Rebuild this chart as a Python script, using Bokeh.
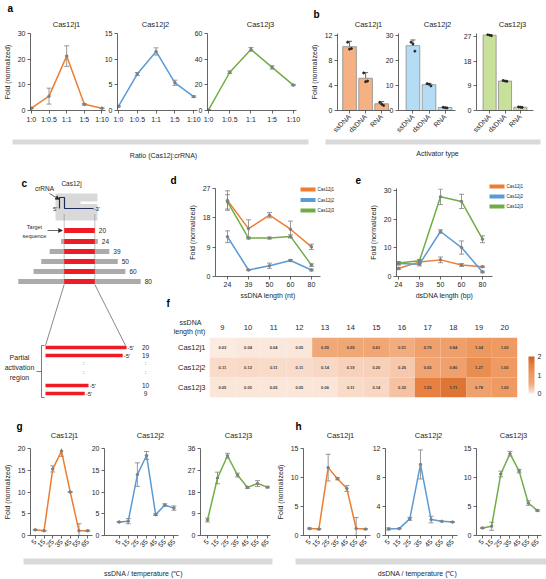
import math
from bokeh.plotting import figure
from bokeh.layouts import row, column
from bokeh.models import (Range1d, FixedTicker, Whisker, ColumnDataSource,
                          LinearColorMapper, ColorBar, TeeHead, Arrow, NormalHead)
from bokeh.transform import transform
from bokeh.embed import file_html
from bokeh.resources import INLINE
from bokeh.core.properties import value

# ---------------- data ----------------
series_names = ["Cas12j1", "Cas12j2", "Cas12j3"]

ratio_labels = ["1:0", "1:0.5", "1:1", "1:5", "1:10"]
a_j1 = [0.9, 5.6, 21.2, 2.4, 0.9]
a_j1_err = [0.15, 3.1, 4.0, 0.3, 0.15]
a_j2 = [0.8, 7.1, 11.5, 5.4, 2.7]
a_j2_err = [0.1, 0.3, 0.7, 0.5, 0.15]
a_j3 = [0.4, 29.8, 47.6, 33.6, 19.8]
a_j3_err = [0.3, 1.0, 1.5, 1.3, 0.5]

activator_labels = ["ssDNA", "dsDNA", "RNA"]
b_j1 = [10.2, 5.15, 1.08]
b_j1_err = [0.85, 0.9, 0.35]
b_j1_reps = [[10.9, 9.8, 9.9], [6.0, 4.6, 4.7], [1.3, 1.0, 0.8]]
b_j2 = [26.1, 10.4, 1.2]
b_j2_err = [2.3, 0.5, 0.15]
b_j2_reps = [[27.5, 26.8, 23.9], [10.8, 10.6, 9.9], [1.3, 1.1, 1.0]]
b_j3 = [27.4, 10.7, 1.2]
b_j3_err = [0.25, 0.25, 0.1]
b_j3_reps = [[27.6, 27.4, 27.2], [10.9, 10.7, 10.6], [1.3, 1.2, 1.1]]

ss_length_labels = ["24", "39", "50", "60", "80"]
d_j1 = [23.3, 14.7, 18.8, 14.5, 9.1]
d_j1_err = [3.0, 2.7, 0.8, 2.5, 0.8]
d_j2 = [12.2, 2.0, 3.3, 4.9, 2.0]
d_j2_err = [1.8, 0.2, 0.8, 0.3, 0.3]
d_j3 = [22.9, 11.8, 11.8, 12.3, 3.5]
d_j3_err = [2.2, 0.3, 0.3, 0.5, 0.4]

ds_length_labels = ["24", "39", "50", "60", "80"]
e_j1 = [2.8, 5.1, 5.8, 4.0, 3.4]
e_j1_err = [0.4, 0.6, 1.0, 0.5, 0.2]
e_j2 = [4.5, 4.3, 15.7, 10.1, 1.6]
e_j2_err = [0.5, 0.6, 0.6, 2.3, 0.3]
e_j3 = [4.7, 5.5, 27.8, 26.2, 13.0]
e_j3_err = [0.5, 0.5, 2.7, 2.5, 1.2]

hm_lengths = [9, 10, 11, 12, 13, 14, 15, 16, 17, 18, 19, 20]
hm_j1 = [0.03, 0.04, 0.04, 0.05, 0.55, 0.59, 0.61, 0.51, 0.79, 0.84, 1.04, 1.00]
hm_j2 = [0.11, 0.12, 0.11, 0.11, 0.14, 0.19, 0.20, 0.26, 0.65, 0.80, 1.27, 1.00]
hm_j3 = [0.05, 0.05, 0.05, 0.05, 0.06, 0.11, 0.14, 0.32, 1.53, 1.71, 0.78, 1.00]

temp_labels = ["5", "15", "25", "35", "45", "55", "65"]
g_j1 = [1.3, 1.1, 15.3, 19.4, 10.0, 1.1, 1.1]
g_j1_err = [0.1, 0.1, 0.7, 1.2, 0.1, 1.6, 0.1]
g_j2 = [3.1, 3.3, 14.0, 18.4, 4.8, 7.0, 6.3]
g_j2_err = [0.1, 0.6, 2.7, 0.9, 0.2, 0.3, 0.5]
g_j3 = [6.4, 23.8, 33.0, 25.0, 19.9, 21.5, 20.0]
g_j3_err = [0.8, 2.4, 1.0, 0.8, 0.4, 1.2, 0.3]

h_j1 = [1.2, 1.1, 11.7, 9.8, 8.1, 1.2, 1.1]
h_j1_err = [0.1, 0.1, 2.3, 0.2, 0.5, 1.9, 0.1]
h_j2 = [0.9, 0.95, 2.3, 9.8, 2.2, 1.95, 1.85]
h_j2_err = [0.15, 0.05, 0.2, 2.0, 0.45, 0.05, 0.05]
h_j3 = [1.3, 1.6, 10.6, 14.1, 11.1, 5.6, 4.3]
h_j3_err = [0.1, 0.7, 0.5, 0.4, 0.3, 0.4, 0.1]

target_length = 20
activator_lengths = [24, 39, 50, 60, 80]
partial_lengths = [20, 19, 10, 9]

# ---------------- style ----------------
FONT = "Liberation Sans"
K = 1.0
W_ALL, H_ALL = 546, 579
ORANGE, BLUE, GREEN = "#ED7D31", "#5B9BD5", "#70AD47"
SERIES_COLORS = [ORANGE, BLUE, GREEN]
ERR = "#7F7F7F"
AXC = "#404040"
TXT = "#262626"


def S(v):
    return int(round(v * K))


class Box:
    def __init__(self, box, frame, xr, yr, **kw):
        x0, y0, x1, y1 = box
        fx0, fy0, fx1, fy1 = frame
        self.box, self.frame, self.xr, self.yr = box, frame, xr, yr
        self.p = figure(width=S(x1) - S(x0), height=S(y1) - S(y0),
                        x_range=Range1d(*xr), y_range=Range1d(*yr),
                        min_border_left=S(fx0) - S(x0), min_border_right=S(x1) - S(fx1),
                        min_border_top=S(fy0) - S(y0), min_border_bottom=S(y1) - S(fy1),
                        output_backend="svg", toolbar_location=None, title=None, **kw)
        p = self.p
        p.background_fill_color = None
        p.border_fill_color = None
        p.outline_line_color = None
        for g in p.grid:
            g.visible = False


def style_axes(p, fs="7px"):
    for ax in list(p.xaxis) + list(p.yaxis):
        ax.axis_line_color = AXC
        ax.axis_line_width = 0.8
        ax.major_tick_line_color = AXC
        ax.major_tick_line_width = 0.8
        ax.minor_tick_line_color = None
        ax.major_tick_out = 3
        ax.major_tick_in = 0
        ax.major_label_standoff = 2
        ax.major_label_text_font = FONT
        ax.major_label_text_font_size = fs
        ax.major_label_text_color = TXT
        ax.axis_label_text_font = FONT
        ax.axis_label_text_font_size = "7px"
        ax.axis_label_text_font_style = "normal"
        ax.axis_label_text_color = TXT
        ax.axis_label_standoff = 4


def add_series(p, vals, errs, color, lw=1.5):
    xs = list(range(len(vals)))
    src = ColumnDataSource(dict(x=xs, y=vals,
                                lo=[max(v - e, 0) for v, e in zip(vals, errs)],
                                hi=[v + e for v, e in zip(vals, errs)]))
    p.line('x', 'y', source=src, line_color=color, line_width=lw)
    p.add_layout(Whisker(source=src, base='x', lower='lo', upper='hi', line_color=ERR, line_width=0.8,
                         upper_head=TeeHead(size=5, line_color=ERR, line_width=0.8),
                         lower_head=TeeHead(size=5, line_color=ERR, line_width=0.8)))
    p.scatter('x', 'y', source=src, size=2.5, color=ERR)


def cat_axis(p, labels, rot=False):
    p.xaxis.ticker = FixedTicker(ticks=list(range(len(labels))))
    p.xaxis.major_label_overrides = {i: t for i, t in enumerate(labels)}
    if rot:
        p.xaxis.major_label_orientation = math.pi / 4


def line_panel(box, frame, xr, yr, yticks, labels, vals, errs, color, rot, ylabel):
    B = Box(box, frame, xr, yr)
    p = B.p
    add_series(p, vals, errs, color)
    cat_axis(p, labels, rot)
    p.yaxis.ticker = FixedTicker(ticks=yticks)
    if ylabel:
        p.yaxis.axis_label = "Fold (normalized)"
    style_axes(p)
    return B


def bar_panel(box, frame, xr, yr, yticks, vals, errs, reps, fill, ylabel):
    B = Box(box, frame, xr, yr)
    p = B.p
    xs = list(range(len(vals)))
    src = ColumnDataSource(dict(x=xs, y=vals, lo=[v - e for v, e in zip(vals, errs)],
                                hi=[v + e for v, e in zip(vals, errs)]))
    p.vbar(x='x', top='y', width=0.85, source=src, fill_color=fill, line_color="#8C8C8C", line_width=0.8)
    p.add_layout(Whisker(source=src, base='x', lower='lo', upper='hi', line_color="#404040", line_width=0.8,
                         upper_head=TeeHead(size=5, line_color="#404040", line_width=0.8),
                         lower_head=TeeHead(size=5, line_color="#404040", line_width=0.8)))
    offs = [-0.12, 0.0, 0.12]
    rx = [i + offs[j] for i in xs for j in range(len(reps[i]))]
    ry = [reps[i][j] for i in xs for j in range(len(reps[i]))]
    p.scatter(rx, ry, size=2, color="#262626")
    cat_axis(p, activator_labels, True)
    p.yaxis.ticker = FixedTicker(ticks=yticks)
    if ylabel:
        p.yaxis.axis_label = "Fold (normalized)"
    style_axes(p)
    return B


def hrow(boxes):
    kids = []
    prev = None
    for b in boxes:
        ml = 0 if prev is None else S(b.box[0]) - S(prev.box[2])
        b.p.margin = (0, 0, 0, ml)
        kids.append(b.p)
        prev = b
    return row(*kids)


def ctext(p, x, y, text, size="6.5px", align="center", style="normal", color=TXT):
    p.text(x=[x], y=[y], text=[text], text_font=value(FONT), text_font_size=value(size),
           text_align=align, text_baseline="middle", text_color=color, text_font_style=style)


# ---------------- panel a ----------------
a1 = line_panel((0, 0, 112, 139), (28, 32, 105, 119), (-0.05, 4.2), (0, 30), [0, 10, 20, 30],
                ratio_labels, a_j1, a_j1_err, ORANGE, False, True)
a2 = line_panel((100, 0, 202, 139), (117, 32, 197, 119), (-0.05, 4.2), (0, 15), [0, 5, 10, 15],
                ratio_labels, a_j2, a_j2_err, BLUE, False, False)
a3 = line_panel((190, 0, 305, 139), (207, 30, 296, 119), (-0.05, 4.15), (0, 60), [0, 20, 40, 60],
                ratio_labels, a_j3, a_j3_err, GREEN, False, False)

# ---------------- panel b ----------------
b1 = bar_panel((295, 0, 393, 139), (337, 33, 390, 117), (-0.75, 2.55), (0, 12.3), [0, 4, 8, 12],
               b_j1, b_j1_err, b_j1_reps, "#F5B183", True)
b2 = bar_panel((378, 0, 470, 139), (398, 33, 455, 117), (-0.9, 2.65), (0, 31), [0, 10, 20, 30],
               b_j2, b_j2_err, b_j2_reps, "#B4DDF5", False)
b3 = bar_panel((460, 0, 546, 139), (475, 33, 533, 117), (-0.85, 2.85), (0, 28), [0, 9, 18, 27],
               b_j3, b_j3_err, b_j3_reps, "#C9E09A", False)

# ---------------- strip under a/b ----------------
st1 = Box((0, 139, 546, 165), (0, 139, 546, 165), (0, 546), (165, 139), x_axis_type=None, y_axis_type=None)
st1.p.quad(left=[12, 325], right=[308, 540], top=[137, 137], bottom=[144, 144],
           fill_color="#D9D9D9", line_color=None)
ctext(st1.p, 163, 155, "Ratio (Cas12j:crRNA)", size="7px")
ctext(st1.p, 437, 153, "Activator type", size="7px")

# ---------------- panel c (schematic) ----------------
c = Box((0, 165, 168, 410), (0, 165, 168, 410), (0, 168), (410, 165), x_axis_type=None, y_axis_type=None)
p = c.p
CX, PXN = 79, 1.53
p.quad(left=[55], right=[97], top=[193], bottom=[220], fill_color="#D9D9D9", line_color=None)
p.quad(left=[80], right=[98], top=[201], bottom=[203.5], fill_color="white", line_color=None)
p.line([59, 59, 64, 64, 93], [208, 197, 197, 208, 208], line_color="#1F2D5C", line_width=1.2)
ctext(p, 57, 208, "5'", size="6px", align="right")
ctext(p, 93, 208, "-3'", size="6px", align="left")
ctext(p, 44, 188, "crRNA", size="6.5px")
ctext(p, 71, 183, "Cas12j", size="6.5px")
ctext(p, 21, 183, "c", size="10px", align="left", style="bold", color="black")
p.add_layout(Arrow(end=NormalHead(size=4, fill_color=TXT, line_color=TXT, line_width=0.5),
                   x_start=49, y_start=193, x_end=59, y_end=199, line_color=TXT, line_width=0.7))
ctext(p, 34, 226, "Target", size="5.5px")
ctext(p, 34, 235, "sequence", size="5.5px")
p.add_layout(Arrow(end=NormalHead(size=4, fill_color=TXT, line_color=TXT, line_width=0.5),
                   x_start=47, y_start=230, x_end=62, y_end=230, line_color=TXT, line_width=0.7))
row_y = [241 + 10 * i for i in range(len(activator_lengths))]
xl, xr_ = CX - PXN * target_length / 2, CX + PXN * target_length / 2
p.segment(x0=[xl, xr_], y0=[214, 214], x1=[xl, xr_], y1=[284, 284],
          line_color="#555555", line_width=0.7, line_dash="1 1")
p.rect(x=[CX] * len(activator_lengths), y=row_y, width=[PXN * L for L in activator_lengths],
       height=5, fill_color="#ABABAB", line_color=None)
p.rect(x=[CX] * (len(row_y) + 1), y=[230] + row_y, width=PXN * target_length, height=5,
       fill_color="#EE1C25", line_color=None)
for L, yy in zip([target_length] + activator_lengths, [230] + row_y):
    ctext(p, CX + PXN * L / 2 + 4, yy, str(L), size="6.5px", align="left")
p.segment(x0=[xl, xr_], y0=[284, 284], x1=[45, 125], y1=[345, 345], line_color="#555555", line_width=0.7)
part_y = [347, 355, 385, 393]
part_w = [3.8 * L + 5 for L in partial_lengths]
p.quad(left=[45] * 4, right=[45 + w for w in part_w], top=[yy - 1.8 for yy in part_y],
       bottom=[yy + 1.8 for yy in part_y], fill_color="#EE1C25", line_color=None)
for L, w, yy in zip(partial_lengths, part_w, part_y):
    ctext(p, 46 + w, yy, "-5'", size="6px", align="left")
    ctext(p, 145, yy, str(L), size="6.5px")
for yy in (362, 371):
    ctext(p, 145, yy, ":", size="6px")
    ctext(p, 83, yy, ":", size="6px")
p.line([44, 41, 41, 44], [345, 345, 397, 397], line_color="#444444", line_width=0.7)
p.segment(x0=[36], y0=[371], x1=[41], y1=[371], line_color="#444444", line_width=0.7)
ctext(p, 19, 357, "Partial", size="7px")
ctext(p, 19, 367, "activation", size="7px")
ctext(p, 19, 377, "region", size="7px")

# ---------------- panels d, e ----------------
d = Box((168, 165, 358, 302), (215, 188, 320, 276), (-0.571, 4.43), (0, 27))
for vals, errs, col in zip([d_j1, d_j2, d_j3], [d_j1_err, d_j2_err, d_j3_err], SERIES_COLORS):
    add_series(d.p, vals, errs, col)
cat_axis(d.p, ss_length_labels)
d.p.yaxis.ticker = FixedTicker(ticks=[0, 9, 18, 27])
d.p.yaxis.axis_label = "Fold (normalized)"
d.p.xaxis.axis_label = "ssDNA length (nt)"
style_axes(d.p)
d.p.xaxis.axis_label_standoff = 2

e = Box((350, 165, 546, 302), (396, 187, 492, 276), (-0.095, 4.476), (0, 30.7))
for vals, errs, col in zip([e_j1, e_j2, e_j3], [e_j1_err, e_j2_err, e_j3_err], SERIES_COLORS):
    add_series(e.p, vals, errs, col)
cat_axis(e.p, ds_length_labels)
e.p.yaxis.ticker = FixedTicker(ticks=[0, 10, 20, 30])
e.p.yaxis.axis_label = "Fold (normalized)"
e.p.xaxis.axis_label = "dsDNA length (bp)"
style_axes(e.p)
e.p.xaxis.axis_label_standoff = 2

# ---------------- panel f (heatmap) ----------------
anchors = [(0.0, "#FCEFE7"), (0.1, "#F9DCCB"), (0.3, "#F5C4A6"), (0.55, "#F0A878"),
           (1.0, "#EE9A62"), (1.6, "#E67D3C"), (2.0, "#CC5F1E")]


def make_palette(anc, n=256):
    out = []
    lo, hi = anc[0][0], anc[-1][0]
    for i in range(n):
        v = lo + (hi - lo) * i / (n - 1)
        for (v0, c0), (v1, c1) in zip(anc[:-1], anc[1:]):
            if v <= v1 + 1e-9:
                t = (v - v0) / (v1 - v0)
                r0 = [int(c0[k:k + 2], 16) for k in (1, 3, 5)]
                r1 = [int(c1[k:k + 2], 16) for k in (1, 3, 5)]
                out.append("#%02x%02x%02x" % tuple(int(round(a + (b - a) * t)) for a, b in zip(r0, r1)))
                break
    return out


mapper = LinearColorMapper(palette=make_palette(anchors), low=0, high=2)
f = Box((164, 302, 546, 410), (209, 337, 521, 397), (-0.5, 11.5), (2.5, -0.5), x_axis_location="above")
hm_rows = [hm_j1, hm_j2, hm_j3]
hx = [i for r in range(3) for i in range(len(hm_lengths))]
hy = [r for r in range(3) for i in range(len(hm_lengths))]
hv = [hm_rows[r][i] for r in range(3) for i in range(len(hm_lengths))]
hsrc = ColumnDataSource(dict(x=hx, y=hy, v=hv, t=["%.2f" % v for v in hv]))
f.p.rect(x='x', y='y', width=1, height=1, source=hsrc, fill_color=transform('v', mapper), line_color=None)
f.p.text(x='x', y='y', text='t', source=hsrc, text_font=value(FONT), text_font_size=value("4px"),
         text_font_style="bold", text_align="center", text_baseline="middle", text_color="#3A3A3A")
f.p.xaxis.ticker = FixedTicker(ticks=list(range(len(hm_lengths))))
f.p.xaxis.major_label_overrides = {i: str(L) for i, L in enumerate(hm_lengths)}
f.p.yaxis.ticker = FixedTicker(ticks=[0, 1, 2])
f.p.yaxis.major_label_overrides = {i: n for i, n in enumerate(series_names)}
style_axes(f.p, fs="7.5px")
for ax in list(f.p.xaxis) + list(f.p.yaxis):
    ax.axis_line_color = None
    ax.major_tick_line_color = None
    ax.major_tick_out = 0
f.p.xaxis.major_label_standoff = 8
f.p.yaxis.major_label_standoff = 4
cb = ColorBar(color_mapper=mapper, ticker=FixedTicker(ticks=[0, 1, 2]), width=6, height=S(37),
              location=(S(528) - S(209), S(397) - S(393)), padding=0, margin=0,
              major_tick_line_color=None, bar_line_color=None, label_standoff=3,
              major_label_text_font=FONT, major_label_text_font_size="7px",
              major_label_text_color=TXT, background_fill_color=None, border_line_color=None)
f.p.add_layout(cb)

# ---------------- panels g, h ----------------
g1 = line_panel((0, 410, 100, 552), (27, 448, 92, 536), (-0.55, 6.55), (0, 20), [0, 5, 10, 15, 20],
                temp_labels, g_j1, g_j1_err, ORANGE, True, True)
g2 = line_panel((88, 410, 190, 552), (103, 446, 178, 536), (-1.6, 6.5), (0, 20), [0, 5, 10, 15, 20],
                temp_labels, g_j2, g_j2_err, BLUE, True, False)
g3 = line_panel((180, 410, 275, 552), (200, 445, 270, 536), (-0.7, 6.3), (0, 36), [0, 9, 18, 27, 36],
                temp_labels, g_j3, g_j3_err, GREEN, True, False)
h1 = line_panel((270, 410, 375, 552), (303, 445, 370, 537), (-0.643, 6.536), (0, 15), [0, 5, 10, 15],
                temp_labels, h_j1, h_j1_err, ORANGE, True, True)
h2 = line_panel((365, 410, 465, 552), (385, 447, 457, 538), (-0.28, 6.47), (0, 12), [0, 4, 8, 12],
                temp_labels, h_j2, h_j2_err, BLUE, True, False)
h3 = line_panel((455, 410, 546, 552), (476, 446, 541, 536), (-0.65, 6.44), (0, 15), [0, 5, 10, 15],
                temp_labels, h_j3, h_j3_err, GREEN, True, False)

st3 = Box((0, 552, 546, 579), (0, 552, 546, 579), (0, 546), (579, 552), x_axis_type=None, y_axis_type=None)
st3.p.quad(left=[23, 295], right=[272, 546], top=[558, 558], bottom=[564, 564],
           fill_color="#D9D9D9", line_color=None)
ctext(st3.p, 143, 573, "ssDNA / temperature (\u2103)", size="7px")
ctext(st3.p, 417, 573, "dsDNA / temperature (\u2103)", size="7px")

# ---------------- transparent overlay for free text ----------------
ov = Box((0, 0, W_ALL, H_ALL), (0, 0, W_ALL, H_ALL), (0, W_ALL), (H_ALL, 0),
         x_axis_type=None, y_axis_type=None)
o = ov.p
# subplot titles
title_pos = [(66, 24), (155, 24), (260, 24), (368, 24), (437, 24), (512, 24),
             (64, 435), (150, 435), (238, 435), (340, 435), (428, 435), (513, 435)]
for k, (tx, ty) in enumerate(title_pos):
    ctext(o, tx, ty, series_names[k % 3], size="7.5px")
# panel letters
for let, lx, ly in [("a", 7, 8), ("b", 313, 14), ("d", 170, 180), ("e", 355, 179),
                    ("f", 166, 303), ("g", 16, 426), ("h", 295, 426)]:
    ctext(o, lx, ly, let, size="10px", align="left", style="bold", color="black")
# heatmap header
ctext(o, 190, 322, "ssDNA", size="7px")
ctext(o, 189, 331, "length (nt)", size="7px")
# legends of d and e
for (lx0, ly0, dy) in [(300, 189, 10.5), (489, 186, 10)]:
    for k, (name, col) in enumerate(zip(series_names, SERIES_COLORS)):
        yy = ly0 + k * dy
        o.segment(x0=[lx0], y0=[yy], x1=[lx0 + 15], y1=[yy], line_color=col, line_width=4)
        ctext(o, lx0 + 17, yy, name, size="4.5px", align="left")

# ---------------- layout ----------------
inner = column(hrow([d, e]), f.p)
f.p.margin = (0, 0, 0, S(f.box[0]) - S(d.box[0]))
main = column(
    hrow([a1, a2, a3, b1, b2, b3]),
    st1.p,
    row(c.p, inner),
    hrow([g1, g2, g3, h1, h2, h3]),
    st3.p,
)
o.margin = (-S(H_ALL), 0, 0, 0)
layout = column(main, o)

open("out.html", "w").write(file_html(layout, INLINE))
